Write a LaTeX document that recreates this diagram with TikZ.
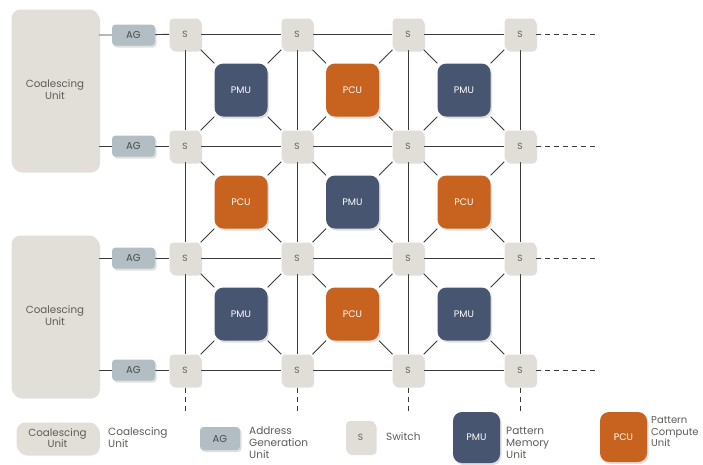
\documentclass[tikz,border=0pt]{standalone}
\usepackage{fontspec}
\setmainfont{Poppins}
\usetikzlibrary{shadows,backgrounds}
\definecolor{cuc}{HTML}{E2DFD8}
\definecolor{swc}{HTML}{E1DED7}
\definecolor{agc}{HTML}{B3BEC4}
\definecolor{pmuc}{HTML}{475570}
\definecolor{pcuc}{HTML}{C8621F}
\definecolor{txtg}{HTML}{5C5C58}
\definecolor{linec}{HTML}{3A3A3A}
\begin{document}
\begin{tikzpicture}[x=1pt,y=-1pt,
  shad/.style={drop shadow={opacity=0.25,shadow xshift=1.5pt,shadow yshift=-2pt}},
  cubox/.style={shad,rounded corners=9pt,fill=cuc,minimum width=87pt,minimum height=161pt,text=txtg,align=center,font=\fontsize{10.3}{12}\selectfont},
  agbox/.style={shad,rounded corners=3.5pt,fill=agc,minimum width=43pt,minimum height=21pt,inner sep=0pt,text=txtg!80!black,font=\fontsize{10}{11}\selectfont},
  swbox/.style={shad,rounded corners=4pt,fill=swc,minimum width=31pt,minimum height=31pt,inner sep=0pt,text=txtg,font=\fontsize{9}{10}\selectfont},
  pmubox/.style={shad,rounded corners=9pt,fill=pmuc,minimum width=53pt,minimum height=53pt,inner sep=0pt,text=white,font=\fontsize{9.5}{11}\selectfont},
  pcubox/.style={pmubox,fill=pcuc},
  legtxt/.style={anchor=west,align=left,text=txtg,inner sep=2pt,font=\fontsize{10.5}{12}\selectfont},
  wire/.style={draw=linec,line width=0.9pt},
  dwire/.style={draw=linec,line width=0.9pt,dash pattern=on 5pt off 4pt}
]
\useasboundingbox (0,0) rectangle (703,464);

% coalescing units
\node[cubox] (cu1) at (55,90) {Coalescing\\Unit};
\node[cubox] (cu2) at (55,316) {Coalescing\\Unit};

% AGs
\node[agbox] (ag1) at (133.5,35) {AG};
\node[agbox] (ag2) at (133.5,146) {AG};
\node[agbox] (ag3) at (133.5,258) {AG};
\node[agbox] (ag4) at (133.5,370) {AG};

% switches
\foreach \r/\y in {1/34,2/146,3/258,4/370}{
  \foreach \c/\x in {1/185,2/297,3/408,4/520}{
    \node[swbox] (s\r\c) at (\x,\y) {S};
  }
}

% compute / memory units
\node[pmubox] (u11) at (241,90) {PMU};
\node[pcubox] (u12) at (352.5,90) {PCU};
\node[pmubox] (u13) at (464,90) {PMU};
\node[pcubox] (u21) at (241,202) {PCU};
\node[pmubox] (u22) at (352.5,202) {PMU};
\node[pcubox] (u23) at (464,202) {PCU};
\node[pmubox] (u31) at (241,314) {PMU};
\node[pcubox] (u32) at (352.5,314) {PCU};
\node[pmubox] (u33) at (464,314) {PMU};

% dashed ends
\foreach \r/\y in {1/34,2/146,3/258,4/370}{
  \coordinate (e\r) at (598,\y);
}
\foreach \c/\x in {1/185,2/297,3/408,4/520}{
  \coordinate (b\c) at (\x,412);
}

\begin{scope}[on background layer]
  \fill[white] (0,0) rectangle (703,464);
  % CU to AG to S
  \draw[wire] (cu1.east |- ag1) -- (ag1) -- (s11);
  \draw[wire] (cu1.east |- ag2) -- (ag2) -- (s21);
  \draw[wire] (cu2.east |- ag3) -- (ag3) -- (s31);
  \draw[wire] (cu2.east |- ag4) -- (ag4) -- (s41);
  % grid
  \foreach \r in {1,2,3,4}{
    \draw[wire] (s\r1) -- (s\r2) -- (s\r3) -- (s\r4);
    \draw[dwire] (s\r4.east) -- (e\r);
  }
  \foreach \c in {1,2,3,4}{
    \draw[wire] (s1\c) -- (s2\c) -- (s3\c) -- (s4\c);
    \draw[dwire] (s4\c.south) ++(0,2) -- (b\c);
  }
  % diagonals
  \foreach \i/\ni in {1/2,2/3,3/4}{
    \foreach \j/\nj in {1/2,2/3,3/4}{
      \draw[wire] (s\i\j) -- (u\i\j) -- (s\ni\nj);
      \draw[wire] (s\i\nj) -- (u\i\j) -- (s\ni\j);
    }
  }
\end{scope}

% legend
\node[cubox,minimum width=82pt,minimum height=31pt,font=\fontsize{10.3}{11}\selectfont] (lcu) at (57.5,438) {Coalescing\\Unit};
\node[legtxt] (lcut) at (106,438) {Coalescing\\Unit};
\node[agbox,minimum width=40pt,minimum height=23pt] (lag) at (220,438.5) {AG};
\node[legtxt] (lagt) at (247,443) {Address\\Generation\\Unit};
\node[swbox,minimum width=29pt,minimum height=32pt] (lsw) at (360.5,437) {S};
\node[legtxt] (lswt) at (384,437) {Switch};
\node[pmubox,minimum width=47pt,minimum height=51pt] (lpmu) at (476.5,437.5) {PMU};
\node[legtxt] (lpmut) at (504,443) {Pattern\\Memory\\Unit};
\node[pcubox,minimum width=47pt,minimum height=50pt] (lpcu) at (623.5,437) {PCU};
\node[legtxt,font=\fontsize{10}{11.5}\selectfont] (lpcut) at (649,432) {Pattern\\Compute\\Unit};
\end{tikzpicture}
\end{document}
